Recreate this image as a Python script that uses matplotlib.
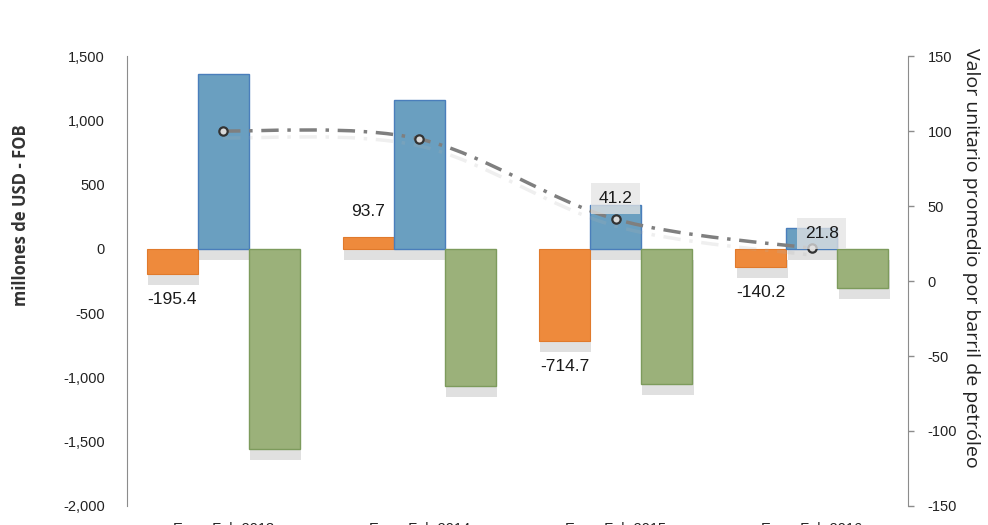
import matplotlib.pyplot as plt
import matplotlib.patheffects as pe
from matplotlib.path import Path
from matplotlib.patches import PathPatch
import numpy as np

periodos = ["Ene - Feb 2013", "Ene - Feb 2014", "Ene - Feb 2015", "Ene - Feb 2016"]
balanza = [-195.4, 93.7, -714.7, -140.2]          # naranja
exportaciones = [1362.0, 1160.0, 338.0, 166.0]    # azul
importaciones = [-1557.4, -1066.3, -1052.7, -306.2]  # verde
precio_barril = [100.1, 94.7, 41.2, 21.8]         # eje derecho

plt.rcParams['font.family'] = ['Liberation Sans', 'DejaVu Sans']
plt.rcParams['axes.unicode_minus'] = False

fig = plt.figure(figsize=(9.88, 5.25), dpi=100)
ax = fig.add_axes([0.1285, 0.0362, 0.7905, 0.8571])
ax2 = ax.twinx()

x = np.arange(len(periodos))
w = 0.26

sombra = [pe.SimplePatchShadow(offset=(1, -8), shadow_rgbFace='#9a9a9a', alpha=0.3), pe.Normal()]

ax.bar(x - w, balanza, w, color='#EE8A3C', edgecolor='#E07A2C', linewidth=0.8,
       path_effects=sombra, zorder=3)
ax.bar(x, exportaciones, w, color='#6A9FC0', edgecolor='#4A7EBB', linewidth=1.0,
       path_effects=sombra, zorder=3)
ax.bar(x + w, importaciones, w, color='#9BB17A', edgecolor='#7D9B5C', linewidth=1.0,
       path_effects=sombra, zorder=3)

# etiquetas de la balanza
for xi, v in zip(x, balanza):
    desp = -200 if v < 0 else 200
    ax.text(xi - w, v + desp, f"{v:.1f}", ha='center', va='center', fontsize=12.5,
            color='#1a1a1a', zorder=5)

ax.set_xlim(-0.49, 3.49)
ax.set_ylim(-2000, 1500)
ax.set_yticks(np.arange(-2000, 1501, 500))
ax.set_yticklabels([f"{v:,}" for v in range(-2000, 1501, 500)])
ax.tick_params(axis='y', length=0, pad=16, labelsize=10.5, colors='#222222')
ax.set_xticks(x)
ax.set_xticklabels(periodos)
ax.tick_params(axis='x', length=0, pad=11.5, labelsize=10.5, colors='#222222')

for s in ['top', 'right', 'bottom']:
    ax.spines[s].set_visible(False)
ax.spines['left'].set_color('#8c8c8c')

# precio promedio: curva suavizada a trazos
ax2.set_ylim(-150, 150)
ax2.set_yticks(np.arange(-150, 151, 50))
ax2.tick_params(axis='y', length=4, width=1, pad=10, labelsize=10.5,
                colors='#8c8c8c', labelcolor='#222222')
for s in ['top', 'left', 'bottom']:
    ax2.spines[s].set_visible(False)
ax2.spines['right'].set_color('#8c8c8c')

px = x.astype(float)
py = np.array(precio_barril)
verts = [(px[0], py[0])]
codes = [Path.MOVETO]
for i in range(len(px) - 1):
    p0 = (px[max(i - 1, 0)], py[max(i - 1, 0)])
    p1 = (px[i], py[i])
    p2 = (px[i + 1], py[i + 1])
    p3 = (px[min(i + 2, len(px) - 1)], py[min(i + 2, len(px) - 1)])
    c1 = (p1[0] + (p2[0] - p0[0]) / 6, p1[1] + (p2[1] - p0[1]) / 6)
    c2 = (p2[0] - (p3[0] - p1[0]) / 6, p2[1] - (p3[1] - p1[1]) / 6)
    verts += [c1, c2, p2]
    codes += [Path.CURVE4] * 3
curva = PathPatch(Path(verts, codes), fill=False, edgecolor='#7f7f7f', linewidth=2.5,
                  linestyle=(0, (5, 2.5, 1, 2.5)), zorder=4,
                  path_effects=[pe.SimpleLineShadow(offset=(0, -5), shadow_color='#b0b0b0', alpha=0.2),
                                pe.Normal()])
ax2.add_patch(curva)
ax2.plot(px, py, linestyle='none', marker='o', markersize=6, markerfacecolor='#d9d9d9',
         markeredgecolor='#333333', markeredgewidth=1.6, zorder=5)

for xi, v, dx, dy in zip(px[2:], py[2:], [0, 0.05], [14, 10]):
    ax2.text(xi + dx, v + dy, f"{v:.1f}", ha='center', va='center', fontsize=12.5, color='#1a1a1a',
             zorder=6, bbox=dict(boxstyle='square,pad=0.45', facecolor='#e4e4e4', edgecolor='none', alpha=0.75))

fig.text(0.021, 0.59, "millones de USD - FOB", rotation=90, ha='center', va='center',
         fontsize=12, fontweight='bold', color='#333333', family=['Open Sans', 'DejaVu Sans'])
fig.text(0.983, 0.509, "Valor unitario promedio por barril de petróleo", rotation=270,
         ha='center', va='center', fontsize=14, color='#222222', family=['Open Sans', 'DejaVu Sans'])

fig.savefig("out.png", dpi=100)
